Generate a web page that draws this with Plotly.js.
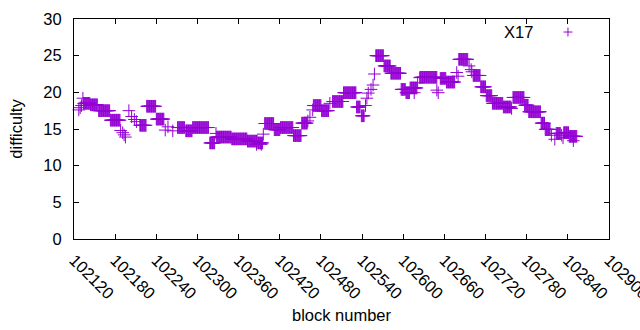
<!DOCTYPE html>
<html>
<head>
<meta charset="utf-8">
<script src="https://cdn.plot.ly/plotly-3.0.1.min.js"></script>
<style>html,body{margin:0;padding:0;background:#fff;}</style>
</head>
<body>
<div id="chart" style="width:640px;height:330px;"></div>
<script>
// Runs of blocks with a constant difficulty (first block, last block, difficulty)
const runStart = [102127,102129,102131,102133,102134,102144,102156,102173,102188,102191,102193,102195,102200,102204,102208,102211,102216,102226,102240,102253,102257,102264,102271,102283,102293,102318,102327,102328,102350,102373,102386,102388,102393,102396,102398,102412,102421,102440,102452,102461,102464,102468,102469,102481,102493,102497,102513,102532,102539,102545,102547,102549,102553,102556,102558,102560,102572,102582,102597,102604,102610,102616,102621,102624,102625,102649,102651,102654,102663,102678,102680,102681,102696,102699,102700,102702,102713,102721,102730,102746,102758,102760,102777,102783,102801,102807,102816,102821,102823,102831,102833,102834,102842,102848];
const runEnd   = [102127,102129,102131,102133,102143,102154,102172,102187,102188,102191,102193,102195,102200,102204,102208,102211,102225,102239,102251,102253,102257,102264,102281,102292,102316,102325,102327,102349,102372,102387,102386,102395,102393,102396,102411,102420,102439,102451,102460,102461,102464,102468,102480,102491,102493,102512,102531,102537,102543,102545,102547,102549,102553,102556,102558,102571,102581,102596,102603,102609,102620,102616,102621,102624,102649,102649,102651,102662,102675,102678,102680,102694,102696,102699,102700,102712,102720,102729,102745,102757,102758,102776,102782,102800,102806,102814,102816,102821,102829,102831,102833,102841,102853,102848];
const runValue = [17.6,17.9,18.2,19.2,18.5,18.3,17.5,16.2,14.8,14.5,14.2,13.9,17.5,16.7,16.3,16.0,15.5,18.1,16.35,14.85,15.3,14.75,15.2,14.75,15.2,13.1,14.4,13.9,13.65,13.35,12.9,13.1,12.9,14.3,15.75,14.9,15.2,14.1,15.8,16.1,16.6,17.6,18.2,17.5,18.5,18.75,19.95,18.0,16.8,18.2,19.2,19.9,20.4,21.0,22.5,25.0,23.6,22.6,20.4,19.95,20.6,19.95,21.3,22.0,22.05,20.3,19.95,21.9,21.4,22.7,22.2,24.5,23.6,23.1,22.8,22.3,20.75,19.55,18.5,18.0,17.8,19.3,18.25,17.35,15.8,14.95,14.15,13.6,14.4,14.15,13.8,14.5,14.0,13.4];

const xTickVals = [102120,102180,102240,102300,102360,102420,102480,102540,102600,102660,102720,102780,102840,102900];
const yTickVals = [0,5,10,15,20,25,30];
const seriesName = "X17";

// expand runs to per-block points
const blocks = [], diffs = [];
for (let i = 0; i < runStart.length; i++) {
  for (let b = runStart[i]; b <= runEnd[i]; b++) { blocks.push(b); diffs.push(runValue[i]); }
}

const color = '#9400D3';
const font = {family: 'Liberation Sans, Arial, sans-serif', size: 16.5, color: '#000'};

const trace = {
  x: blocks, y: diffs, type: 'scatter', mode: 'markers', name: seriesName,
  marker: {symbol: 'cross-thin-open', size: 9, color: color, line: {color: color, width: 1}},
  showlegend: false, hoverinfo: 'skip', cliponaxis: false
};

const layout = {
  width: 640, height: 330,
  margin: {l: 74, r: 31, t: 19, b: 91, pad: 0},
  paper_bgcolor: '#fff', plot_bgcolor: '#fff',
  font: font,
  showlegend: false,
  xaxis: {
    range: [102120, 102900], tickvals: xTickVals, ticktext: xTickVals.map(String),
    tickangle: 45, ticks: 'inside', ticklen: 5, tickcolor: '#000',
    showline: true, linecolor: '#000', linewidth: 1, mirror: 'ticks',
    showgrid: false, zeroline: false, tickfont: font, ticklabelstandoff: 4,
    ticklabeloverflow: 'allow',
    title: {text: 'block number', font: font, standoff: 8}, automargin: false
  },
  yaxis: {
    range: [0, 30], tickvals: yTickVals,
    ticks: 'inside', ticklen: 5, tickcolor: '#000',
    showline: true, linecolor: '#000', linewidth: 1, mirror: 'ticks',
    showgrid: false, zeroline: false, tickfont: font, ticklabelstandoff: 8,
    title: {text: 'difficulty', font: font, standoff: 16}, automargin: false
  },
  annotations: [{
    xref: 'paper', yref: 'paper', x: 0.862, y: 0.942, xanchor: 'right', yanchor: 'middle',
    text: seriesName, showarrow: false, font: font
  }],
  shapes: [
    {type: 'line', xref: 'paper', yref: 'paper', xsizemode: 'pixel', ysizemode: 'pixel',
     xanchor: 0.9233, yanchor: 0.9408, x0: -4.5, x1: 4.5, y0: 0, y1: 0, line: {color: color, width: 1}},
    {type: 'line', xref: 'paper', yref: 'paper', xsizemode: 'pixel', ysizemode: 'pixel',
     xanchor: 0.9233, yanchor: 0.9408, x0: 0, x1: 0, y0: -4.5, y1: 4.5, line: {color: color, width: 1}}
  ]
};

Plotly.newPlot('chart', [trace], layout, {staticPlot: true, displayModeBar: false});
</script>
</body>
</html>
